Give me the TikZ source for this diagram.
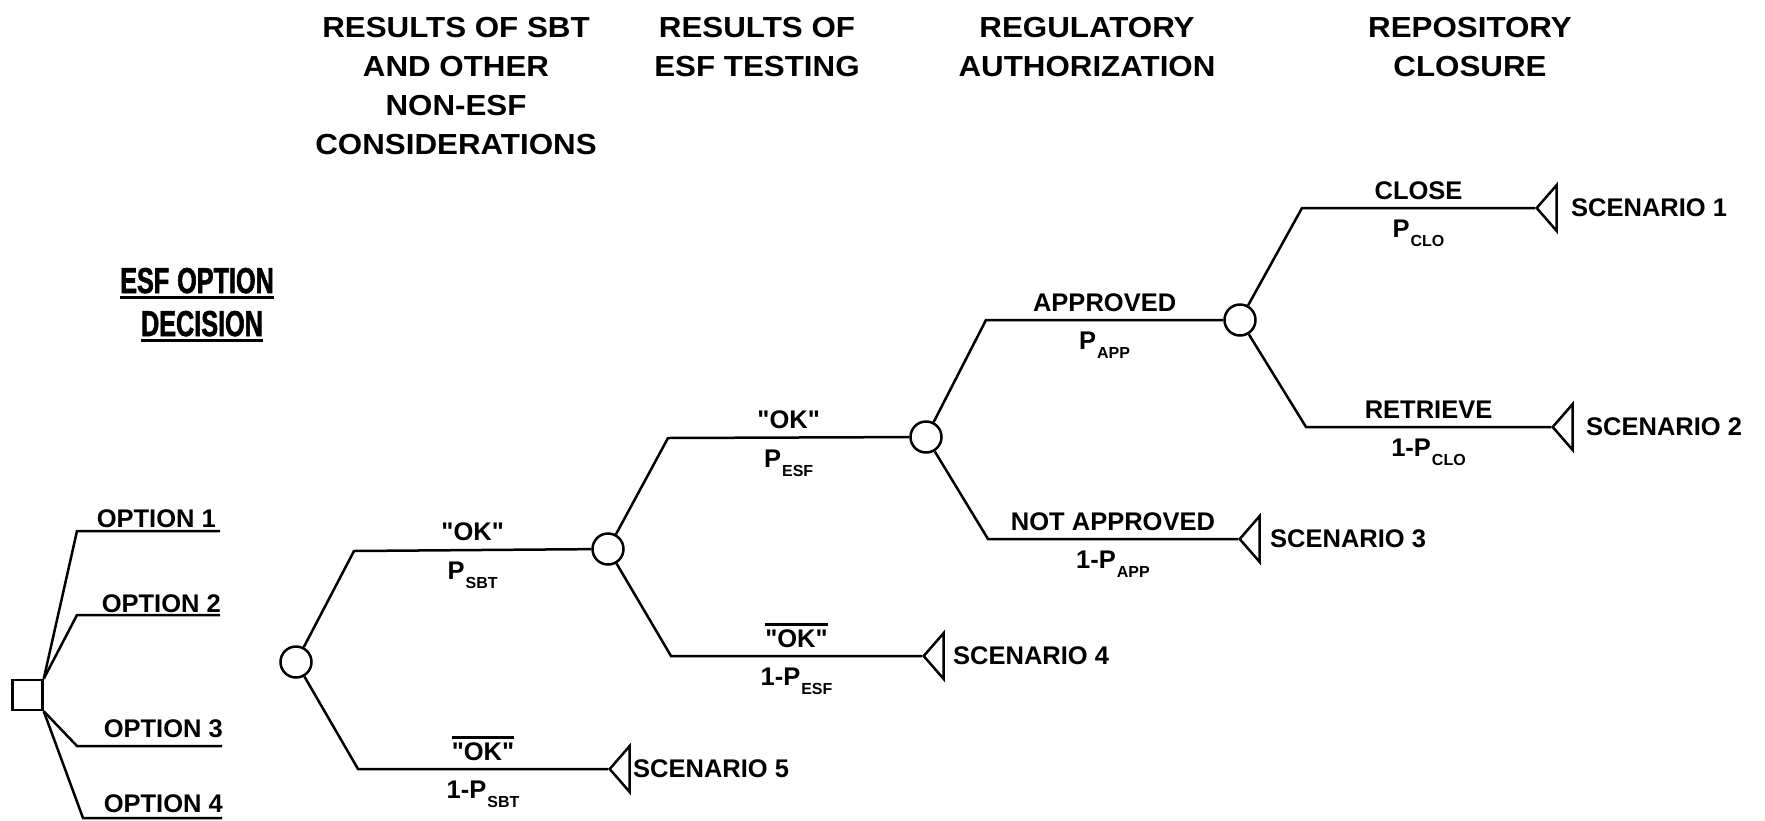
\documentclass[tikz,border=0pt]{standalone}
\usepackage{fontspec}
\setmainfont{Liberation Sans}
\newfontfamily\lblfont{Liberation Sans}
\newfontfamily\hdrfont{Liberation Sans}[FakeStretch=1.08]
\newfontfamily\ttlfont{Liberation Sans}[FakeStretch=0.7, FakeBold=1.6]
\usetikzlibrary{shapes.geometric}

% P with a small lowered index
\newcommand{\psub}[1]{P\kern1pt\raisebox{-9pt}{\fontsize{16}{16}\selectfont #1}}
% "OK" with a bar over it
\newcommand{\barok}{\vbox{\hrule height 2.4pt \kern 4pt \hbox{"OK"}}}
% underlined title line
\newcommand{\ttlline}[1]{\vtop{\hbox{#1}\kern 3pt\hrule height 2.6pt}}

\tikzset{
  chance/.style={circle, draw, line width=2.5pt, minimum size=31pt, inner sep=0pt},
  decision/.style={rectangle, draw, line width=2.5pt, minimum size=30pt, inner sep=0pt},
  leaf/.style={isosceles triangle, isosceles triangle apex angle=95,
    isosceles triangle stretches, shape border rotate=180, draw,
    line width=2.5pt, inner sep=0pt, minimum width=46pt, minimum height=20pt},
  branch/.style={line width=2.5pt},
  lbl/.style={font=\lblfont\bfseries\fontsize{25.5}{30}\selectfont, inner sep=0pt},
  hdr/.style={font=\hdrfont\bfseries\fontsize{29}{39}\selectfont, align=center, inner sep=0pt},
  ttl/.style={font=\ttlfont\bfseries\fontsize{36}{44}\selectfont, inner sep=0pt},
}

\begin{document}
\begin{tikzpicture}[x=1pt,y=-1pt]
  \useasboundingbox (0,0) rectangle (1765,820);

  % Column headers
  \node[hdr, anchor=north] (hsbt) at (456,17) {RESULTS OF SBT\\AND OTHER\\NON-ESF\\CONSIDERATIONS};
  \node[hdr, anchor=north] (hesf) at (757,17) {RESULTS OF\\ESF TESTING};
  \node[hdr, anchor=north] (hreg) at (1087,17) {REGULATORY\\AUTHORIZATION};
  \node[hdr, anchor=north] (hclo) at (1470,17) {REPOSITORY\\CLOSURE};

  % Title
  \node[ttl, anchor=base] (ttla) at (197,293) {\ttlline{ESF\hspace{8pt}OPTION}};
  \node[ttl, anchor=base] (ttlb) at (202,336) {\ttlline{DECISION}};

  % Decision node and options
  \node[decision] (dec) at (27.5,695) {};
  \coordinate (ok1) at (77,531);  \coordinate (oe1) at (220,531);
  \coordinate (ok2) at (77,615);  \coordinate (oe2) at (220,615);
  \coordinate (ok3) at (77,746);  \coordinate (oe3) at (222,746);
  \coordinate (ok4) at (83,818);  \coordinate (oe4) at (222,818);
  \draw[branch] (dec.north east) -- (ok1) -- (oe1);
  \draw[branch] (dec.north east) -- (ok2) -- (oe2);
  \draw[branch] (dec.south east) -- (ok3) -- (oe3);
  \draw[branch] (dec.south east) -- (ok4) -- (oe4);
  % Text Node
  \node[lbl, anchor=base east] (opt1) at (216,527) {OPTION 1};
  \node[lbl, anchor=base east] (opt2) at (221,612) {OPTION 2};
  \node[lbl, anchor=base east] (opt3) at (223,737) {OPTION 3};
  \node[lbl, anchor=base east] (opt4) at (223,812) {OPTION 4};

  % Chance nodes
  \node[chance] (csbt) at (296,662) {};
  \node[chance] (cesf) at (608,549) {};
  \node[chance] (creg) at (926,437) {};
  \node[chance] (cclo) at (1240,320) {};

  % End nodes
  \node[leaf, anchor=apex] (sc1) at (1535,208) {};
  \node[leaf, anchor=apex] (sc2) at (1551,427) {};
  \node[leaf, anchor=apex] (sc3) at (1238,539) {};
  \node[leaf, anchor=apex] (sc4) at (922,656) {};
  \node[leaf, anchor=apex] (sc5) at (608,769) {};
  \node[lbl, anchor=west] at (1571,208) {SCENARIO 1};
  \node[lbl, anchor=west] at (1586,427) {SCENARIO 2};
  \node[lbl, anchor=west] at (1270,539) {SCENARIO 3};
  \node[lbl, anchor=west] at (953,656) {SCENARIO 4};
  \node[lbl, anchor=west] at (633,769) {SCENARIO 5};

  % Knees of the branches
  \coordinate (ksbtu) at (354,551);  \coordinate (ksbtd) at (358,769);
  \coordinate (kesfu) at (668,438);  \coordinate (kesfd) at (671,656);
  \coordinate (kregu) at (986,320);  \coordinate (kregd) at (988,539);
  \coordinate (kclou) at (1302,208); \coordinate (kclod) at (1306,427);

  % Branches
  \draw[branch] (csbt) -- (ksbtu) -- node[lbl, above=8pt] {"OK"} node[lbl, below=11pt] {\psub{SBT}} (cesf);
  \draw[branch] (csbt) -- (ksbtd) -- node[lbl, above=7pt] {\barok} node[lbl, below=11pt] {1-\psub{SBT}} (sc5);
  \draw[branch] (cesf) -- (kesfu) -- node[lbl, above=8pt] {"OK"} node[lbl, below=11pt] {\psub{ESF}} (creg);
  \draw[branch] (cesf) -- (kesfd) -- node[lbl, above=7pt] {\barok} node[lbl, below=11pt] {1-\psub{ESF}} (sc4);
  \draw[branch] (creg) -- (kregu) -- node[lbl, above=7pt] {APPROVED} node[lbl, below=11pt] {\psub{APP}} (cclo);
  \draw[branch] (creg) -- (kregd) -- node[lbl, above=7pt] {NOT APPROVED} node[lbl, below=11pt] {1-\psub{APP}} (sc3);
  \draw[branch] (cclo) -- (kclou) -- node[lbl, above=7pt] {CLOSE} node[lbl, below=11pt] {\psub{CLO}} (sc1);
  \draw[branch] (cclo) -- (kclod) -- node[lbl, above=7pt] {RETRIEVE} node[lbl, below=11pt] {1-\psub{CLO}} (sc2);
\end{tikzpicture}
\end{document}
